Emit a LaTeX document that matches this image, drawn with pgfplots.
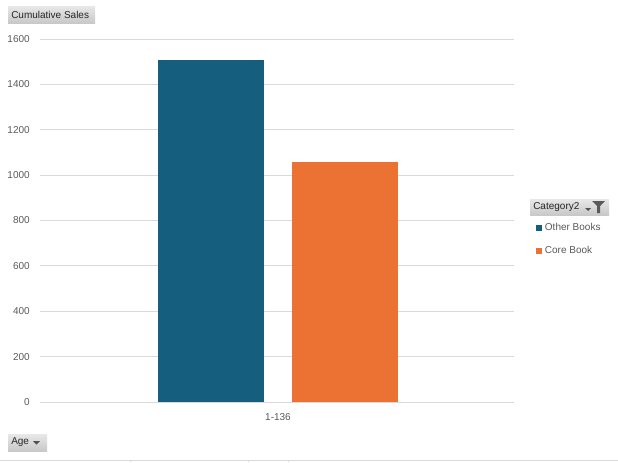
\documentclass[border=0pt]{standalone}
\usepackage{pgfplots}
\pgfplotsset{compat=1.18}
\usepackage{fontspec}
\setmainfont{Liberation Sans}
\definecolor{barblue}{RGB}{22,94,126}
\definecolor{barorange}{RGB}{235,114,50}
\definecolor{ticktext}{RGB}{89,89,89}
\definecolor{gridc}{RGB}{217,217,217}
\definecolor{btntop}{RGB}{232,232,232}
\definecolor{btnbot}{RGB}{200,200,200}
\definecolor{btntext}{RGB}{38,38,38}
\begin{document}
\begin{tikzpicture}[x=0.75pt,y=0.75pt]
\path[use as bounding box] (0,0) rectangle (618,462);
\begin{axis}[
  at={(30pt,45pt)}, anchor=south west,
  scale only axis, width=355.5pt, height=272.25pt,
  xmin=-238, xmax=236, ymin=0, ymax=1600,
  ytick={0,200,...,1600},
  xtick={0}, xticklabels={1-136},
  ymajorgrids, grid style={gridc, line width=0.75pt},
  axis line style={draw=none},
  major tick length=0pt,
  /pgf/number format/assume math mode=true,
  /pgf/number format/set thousands separator={},
  tick label style={font=\fontsize{7.5}{9}\selectfont, text=ticktext, inner sep=0pt},
  yticklabel style={xshift=-7.5pt},
  xticklabel style={yshift=-8.5pt},
  ybar, bar width=106,
  legend style={at={(1.038,0.507)}, anchor=north west, draw=none, fill=none,
     font=\fontsize{7.5}{9}\selectfont, text=ticktext, row sep=6pt},
  legend cell align=left,
  legend image code/.code={\fill[#1] (0pt,-2.25pt) rectangle (4.5pt,2.25pt);},
]
\addplot[fill=barblue, draw=none, bar shift=-67] coordinates {(0,1507)};
\addplot[fill=barorange, draw=none, bar shift=67] coordinates {(0,1058)};
\legend{Other Books, Core Book}
\end{axis}
% buttons
\shade[top color=btntop, bottom color=btnbot] (8,462-6) rectangle (95,462-23);
\node[anchor=west, inner sep=0pt, font=\fontsize{7.5}{9}\selectfont, text=btntext] at (11,462-15) {Cumulative Sales};
\shade[top color=btntop, bottom color=btnbot] (530,462-199) rectangle (609,462-215);
\node[anchor=west, inner sep=0pt, font=\fontsize{7.5}{9}\selectfont, text=btntext] at (533,462-207.5) {Category2};
\fill[btntext!80] (585,462-208) -- (591,462-208) -- (588,462-211) -- cycle;
\fill[gray!70!black] (592,462-201) -- (605,462-201) -- (600,462-206) -- (600,462-213) -- (597,462-213) -- (597,462-206) -- cycle;
\shade[top color=btntop, bottom color=btnbot] (8,462-434) rectangle (47,462-451);
\node[anchor=west, inner sep=0pt, font=\fontsize{7.5}{9}\selectfont, text=btntext] at (11,462-442.5) {Age};
\fill[btntext!80] (33,462-441) -- (40,462-441) -- (36.5,462-444.5) -- cycle;
% bottom strip
\draw[gridc, line width=0.75pt] (0,462-460) -- (618,462-460);
\foreach \xx in {130,248,288} \draw[gridc, line width=0.75pt] (\xx,462-460) -- (\xx,0);
\end{tikzpicture}
\end{document}
